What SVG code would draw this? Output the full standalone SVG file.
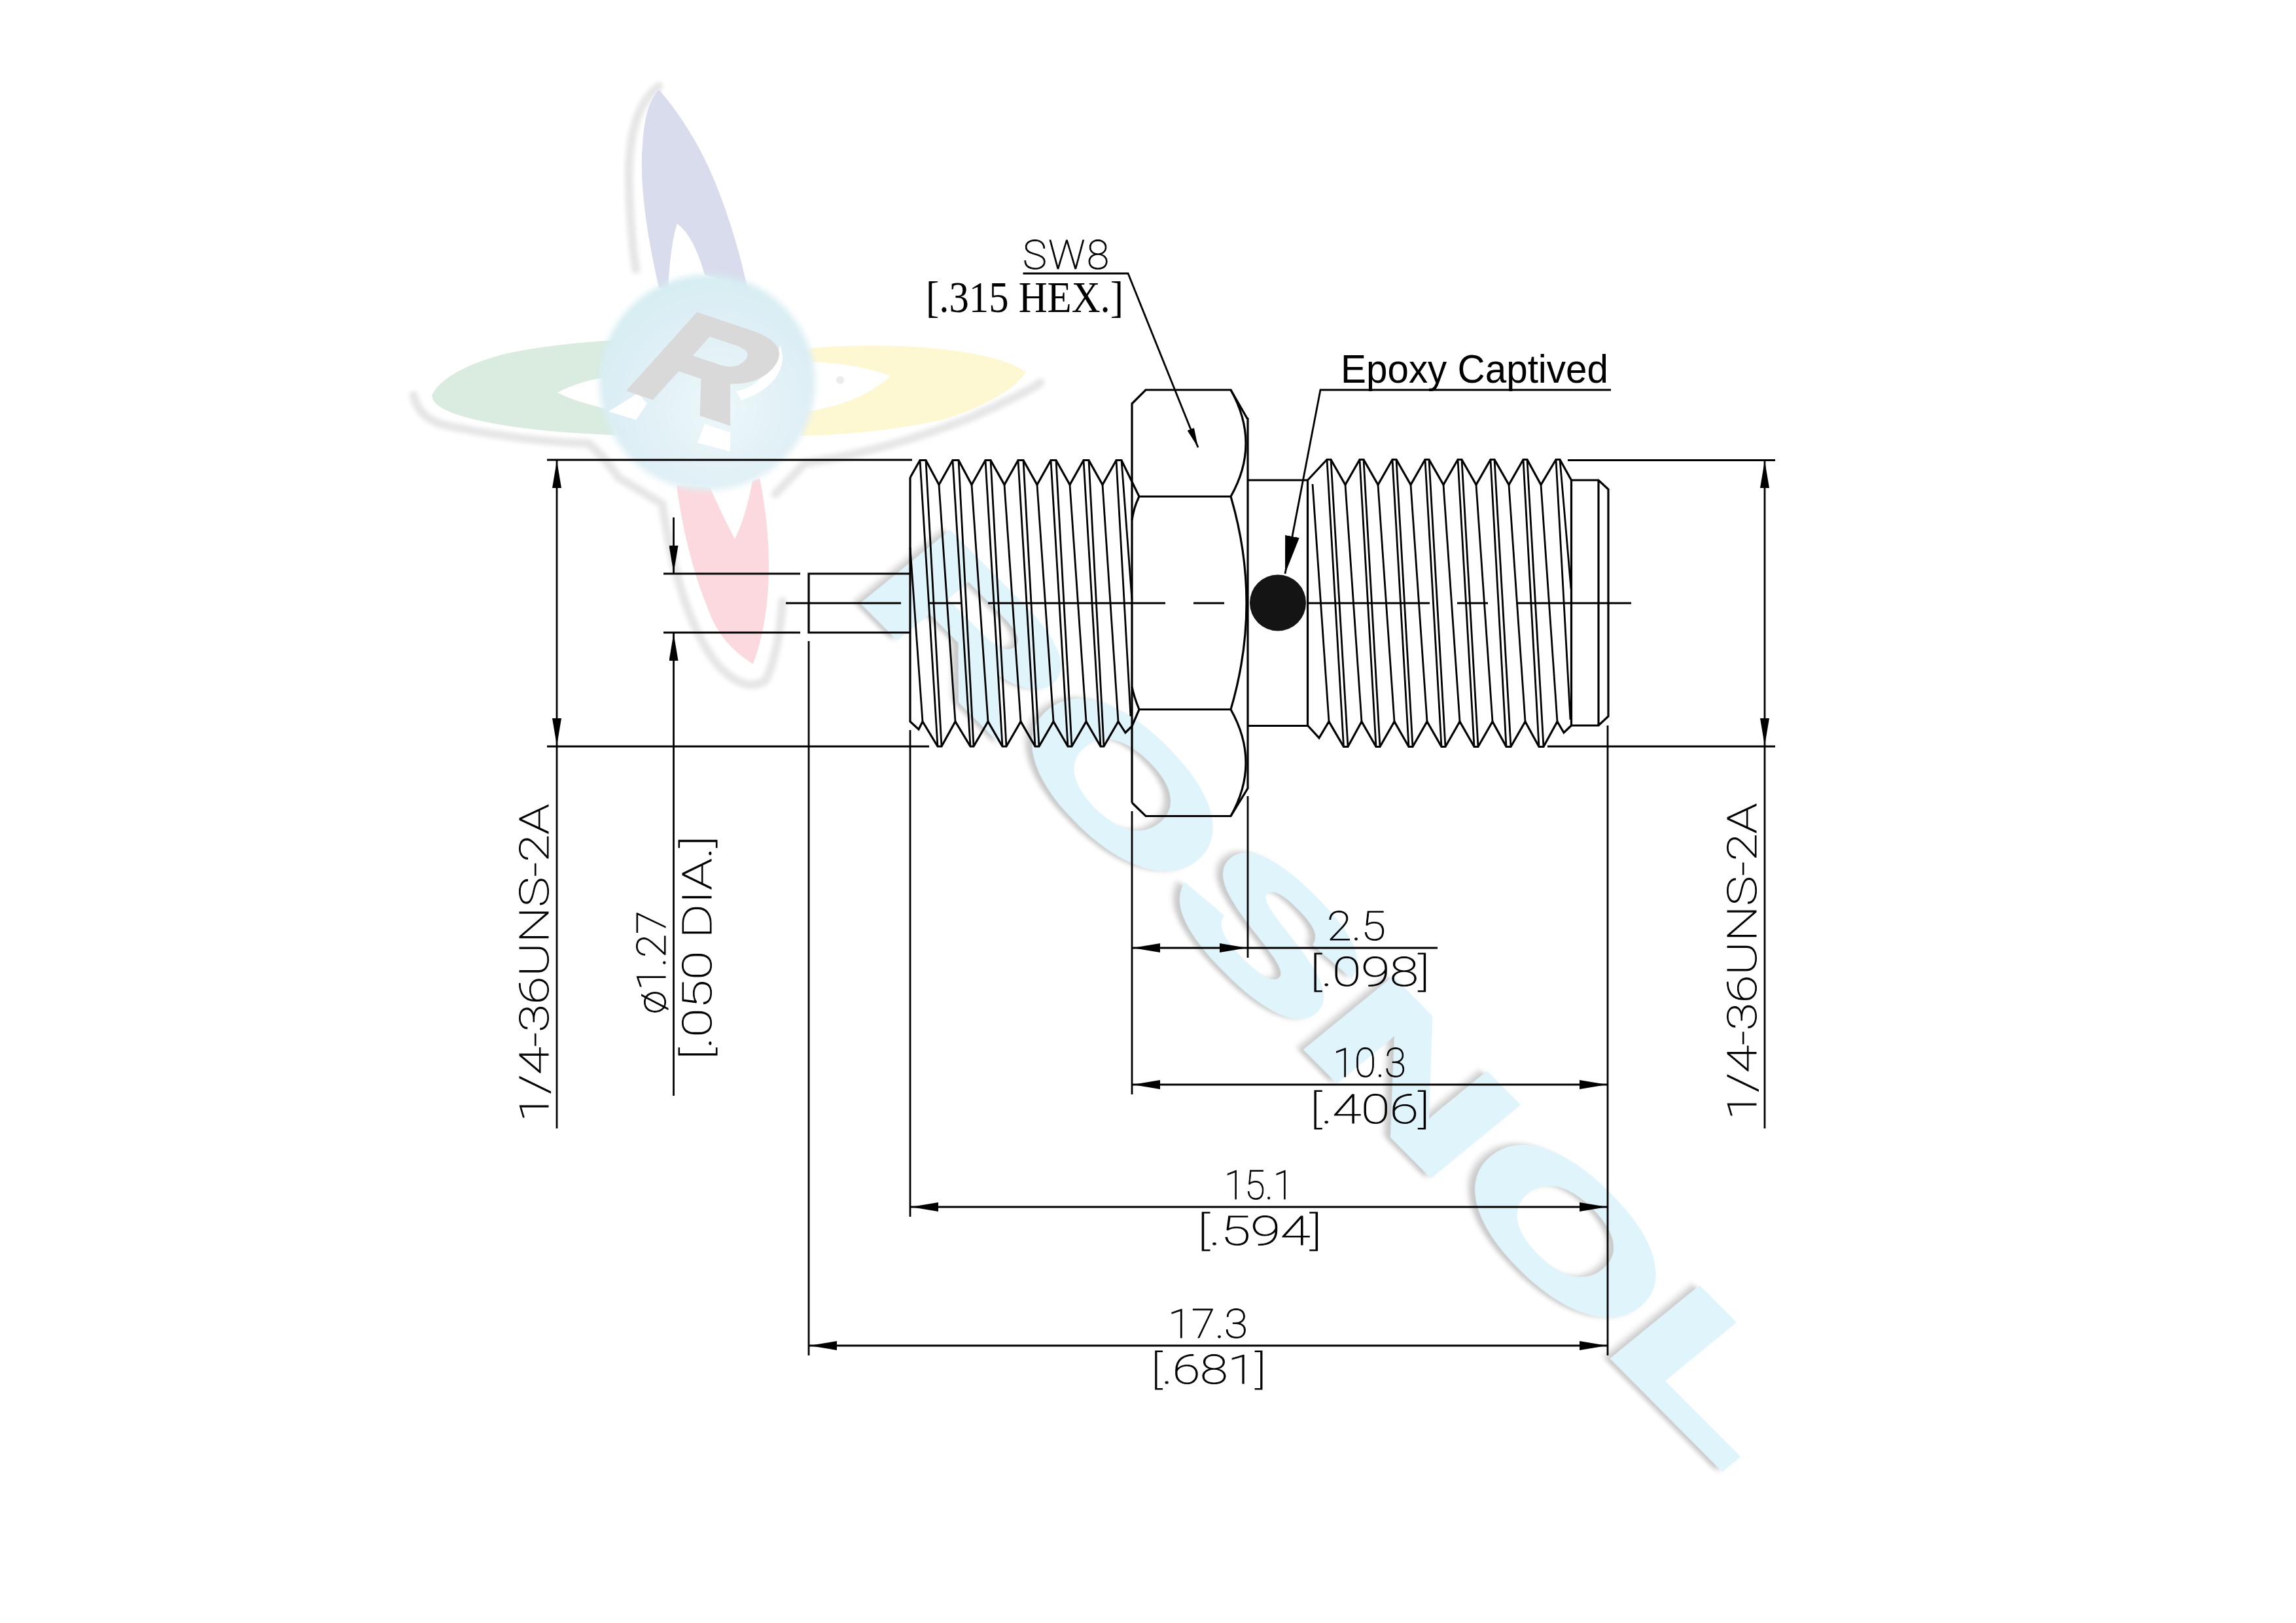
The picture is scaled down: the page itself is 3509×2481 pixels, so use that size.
<svg xmlns="http://www.w3.org/2000/svg" width="3509" height="2481" viewBox="0 0 3509 2481">
<style>
.l{fill:none;stroke:#000;stroke-width:3.2;stroke-linejoin:miter}
.t{fill:none;stroke:#000;stroke-width:2.8}
.d{fill:none;stroke:#000;stroke-width:2.8}
.da{fill:none;stroke:#000;stroke-width:2.8;marker-start:url(#as);marker-end:url(#ae)}
.cad{font-family:"Roboto","Liberation Sans",sans-serif;font-weight:100;font-size:62px;fill:#000;stroke:#000;stroke-width:1}
.halo{fill:none;stroke:#e6e6e6;stroke-width:13;stroke-linecap:round;filter:url(#soft)}
</style>
<defs>
<marker id="ae" markerUnits="userSpaceOnUse" viewBox="0 0 42 14" refX="42" refY="7" markerWidth="42" markerHeight="14" orient="auto"><path d="M0,0L42,7L0,14Z" fill="#000"/></marker>
<marker id="as" markerUnits="userSpaceOnUse" viewBox="0 0 42 14" refX="42" refY="7" markerWidth="42" markerHeight="14" orient="auto-start-reverse"><path d="M0,0L42,7L0,14Z" fill="#000"/></marker>
<marker id="big" markerUnits="userSpaceOnUse" viewBox="0 0 58 22" refX="58" refY="11" markerWidth="58" markerHeight="22" orient="auto"><path d="M0,0L58,11L0,22Z" fill="#000"/></marker>
<marker id="small" markerUnits="userSpaceOnUse" viewBox="0 0 30 11" refX="30" refY="5.5" markerWidth="30" markerHeight="11" orient="auto"><path d="M0,0L30,5.5L0,11Z" fill="#000"/></marker>
<filter id="soft" x="-20%" y="-20%" width="140%" height="140%"><feGaussianBlur stdDeviation="3"/></filter>
<filter id="edge" x="-10%" y="-10%" width="120%" height="120%"><feGaussianBlur stdDeviation="5"/></filter>
<filter id="wm" x="-10%" y="-10%" width="120%" height="120%"><feDropShadow dx="-4" dy="6" stdDeviation="3" flood-color="#c9c9c9"/></filter>
<radialGradient id="ball" cx="0.55" cy="0.62" r="0.62"><stop offset="0" stop-color="#ecf7fa"/><stop offset="0.7" stop-color="#deeff5"/><stop offset="1" stop-color="#d5edf2"/></radialGradient>
</defs>
<rect width="3509" height="2481" fill="#fff"/>
<g id="watermark-logo">
<path class="halo" d="M632,604Q640,640 680,650Q800,675 900,678Q925,700 945,730L1012,770Q1040,950 1100,1020Q1140,1060 1170,1040Q1190,1000 1196,919"/>
<path class="halo" d="M1185,755L1230,708Q1350,690 1480,640Q1570,600 1590,585"/>
<path class="halo" d="M1007,132Q955,170 962,300Q965,370 972,412"/>
<path fill="#d9dcec" d="M1007,137Q1070,210 1105,310Q1130,380 1142,440L1077,420Q1060,360 1035,342Q1025,370 1021,440L1007,440Q975,300 982,221Q985,160 1007,137Z"/>
<path fill="#d9ecdf" d="M660,604Q680,565 775,540Q850,525 940,520L940,575Q890,580 852,600Q880,615 940,628L940,665Q800,660 720,640Q660,625 660,604Z"/>
<path fill="#fdf8d2" d="M1225,534Q1300,525 1400,530Q1530,540 1568,569Q1540,610 1440,642Q1330,665 1224,666L1225,630Q1310,620 1361,575Q1310,555 1235,553Z"/>
<path fill="#fbd9de" d="M1034,742L1085,745Q1105,790 1123,824Q1140,790 1150,735L1161,731Q1175,800 1175,865Q1175,950 1151,1015Q1110,990 1090,950Q1050,860 1034,742Z"/>
<circle cx="1284" cy="581" r="6" fill="#ececec"/>
<circle cx="1081" cy="585" r="165" fill="url(#ball)" filter="url(#edge)"/>
<path fill="#fff" d="M1196,545Q1195,590 1133,612L1125,598Q1170,590 1193,527Z"/>
<polygon fill="#fff" points="930,629 975,601 989,617 972,642"/>
<polygon fill="#fff" points="1077,648 1116,661 1116,690 1066,677"/>
<text transform="matrix(2.35 .79 -1.51 1.68 947 591)" font-family="'Liberation Sans',sans-serif" font-weight="700" font-size="100" fill="#d9d9d9" stroke="#d9d9d9" stroke-width="3">R</text>
</g>
<g id="watermark-text">
<text transform="matrix(1.27 1.28 -.77 .63 1303 904)" font-family="'Liberation Sans',sans-serif" font-weight="700" font-size="246" fill="#dff4fb" stroke="#dff4fb" stroke-width="9" stroke-linejoin="miter" filter="url(#wm)">ROSNOL</text>
</g>
<g id="left-thread">
<path class="l" d="M1391,730L1406,703.5H1415L1435,741L1456,703.5H1465L1485,741L1506,703.5H1514L1535,741L1556,703.5H1564L1585,741L1606,703.5H1614L1635,741L1656,703.5H1664L1685,741L1706,703.5H1714L1741,759"/>
<path class="l" d="M1391,730V1103L1404,1115L1410,1103L1433,1141H1439L1460,1103L1483,1141H1488L1510,1103L1532,1141H1538L1560,1103L1582,1141H1588L1610,1103L1632,1141H1638L1660,1103L1682,1141H1687L1709,1103L1720,1120L1730,1110L1741,1084.5"/>
<path class="t" d="M1391,837L1410,1103M1406,703.5L1433,1141M1415,703.5L1439,1141M1435,741L1460,1103M1456,703.5L1483,1141M1465,703.5L1488,1141M1485,741L1510,1103M1506,703.5L1532,1141M1514,703.5L1538,1141M1535,741L1560,1103M1556,703.5L1582,1141M1564,703.5L1588,1141M1585,741L1610,1103M1606,703.5L1632,1141M1614,703.5L1638,1141M1635,741L1660,1103M1656,703.5L1682,1141M1664,703.5L1687,1141M1685,741L1709,1103M1706,703.5L1728,1095M1714,703.5L1730,917"/>
</g>
<g id="pin"><path class="l" d="M1391,877H1236V967H1391"/></g>
<g id="hex">
<path class="l" d="M1730,1227V617L1751,596H1881L1906,639.5L1907,640V1205L1881,1247.5H1751L1730,1227"/>
<path class="l" d="M1881,596Q1927,678 1881,759Q1929,922 1881,1084.5Q1927,1166 1881,1247.5M1741,759H1881M1741,1084.5H1881M1741,759Q1733,775 1730,795M1741,1084.5Q1733,1065 1730,1050"/>
</g>
<g id="neck"><path class="l" d="M1908,734H1998.5M1908,1109.5H1998.5M1998.5,734V1109.5"/></g>
<g id="epoxy-dot"><circle cx="1953" cy="921.5" r="43" fill="#141414"/></g>
<g id="right-thread">
<path class="l" d="M1998.5,734L2028,702.5H2034L2056,741L2078,702.5H2084L2106,741L2128,702.5H2134L2156,741L2178,702.5H2184L2206,741L2228,702.5H2234L2256,741L2278,702.5H2284L2306,741L2328,702.5H2334L2355,741L2378,702.5H2384L2401.5,734"/>
<path class="l" d="M1998.5,1109L2016,1128L2031,1103L2053.5,1141.5H2060L2081,1103L2103,1141.5H2109L2131,1103L2153,1141.5H2159L2181,1103L2203,1141.5H2209L2231,1103L2253,1141.5H2259L2281,1103L2302,1141.5H2309L2331,1103L2352,1141.5H2359L2380,1103L2390,1120L2401.5,1109"/>
<path class="t" d="M2006,740L2031,1103M2028,702.5L2053.5,1141.5M2034,702.5L2060,1141.5M2056,741L2081,1103M2078,702.5L2103,1141.5M2084,702.5L2109,1141.5M2106,741L2131,1103M2128,702.5L2153,1141.5M2134,702.5L2159,1141.5M2156,741L2181,1103M2178,702.5L2203,1141.5M2184,702.5L2209,1141.5M2206,741L2231,1103M2228,702.5L2253,1141.5M2234,702.5L2259,1141.5M2256,741L2281,1103M2278,702.5L2302,1141.5M2284,702.5L2309,1141.5M2306,741L2331,1103M2328,702.5L2352,1141.5M2334,702.5L2359,1141.5M2355,741L2380,1103M2378,702.5L2400,1100M2384,702.5L2401,900"/>
</g>
<g id="right-end"><path class="l" d="M2401.5,734V1109M2401.5,734H2443L2458,748V1095L2443,1109H2401.5M2443,734V1109"/></g>
<g id="connectors">
<path class="d" d="M1014,877H1223M1014,967H1223M836,703H1394M836,1141H1420M2396,703.5H2713M2365,1141H2713"/>
<path class="d" d="M1201,922H1377M1419,922H1468M1510,922H1781M1824,922H1871M1997,922H2185M2227,922H2274M2317,922H2493"/>
<path class="d" d="M1236,980V2072M1391,1116V1860M1730,1240V1673M1907,1217V1464M2457,1109V2072"/>
<line class="da" x1="851" y1="704" x2="851" y2="1140"/>
<path class="d" d="M851,1140V1725"/>
<line x1="1029.5" y1="791" x2="1029.5" y2="876" class="d" marker-end="url(#ae)"/>
<line x1="1029.5" y1="1675" x2="1029.5" y2="968" class="d" marker-end="url(#ae)"/>
<line class="da" x1="2697" y1="704" x2="2697" y2="1140"/>
<path class="d" d="M2697,1140V1725"/>
<line class="da" x1="1731" y1="1449" x2="1906" y2="1449"/>
<path class="d" d="M1906,1449H2197"/>
<line class="da" x1="1731" y1="1658" x2="2456" y2="1658"/>
<line class="da" x1="1392" y1="1845" x2="2456" y2="1845"/>
<line class="da" x1="1237" y1="2057" x2="2456" y2="2057"/>
<path class="d" d="M1563.5,418H1724L1831,684" marker-end="url(#small)"/>
<path class="d" stroke-width="3" d="M2462,596H2018L1964,877" marker-end="url(#big)"/>
</g>
<g id="labels">
<text class="cad" x="1563" y="411" textLength="132" lengthAdjust="spacing">SW8</text>
<text x="1415" y="477" textLength="302" lengthAdjust="spacingAndGlyphs" font-family="'Liberation Serif',serif" font-size="68">[.315 HEX.]</text>
<text x="2049" y="585" textLength="409" lengthAdjust="spacingAndGlyphs" font-family="'Liberation Sans',sans-serif" font-size="61">Epoxy Captived</text>
<text class="cad" x="2028" y="1437" textLength="90" lengthAdjust="spacingAndGlyphs">2.5</text>
<text class="cad" x="2002" y="1507" textLength="183" lengthAdjust="spacingAndGlyphs">[.098]</text>
<text class="cad" x="2037" y="1646" textLength="112" lengthAdjust="spacingAndGlyphs">10.3</text>
<text class="cad" x="2002" y="1717" textLength="183" lengthAdjust="spacingAndGlyphs">[.406]</text>
<text class="cad" x="1871" y="1833" textLength="106" lengthAdjust="spacingAndGlyphs">15.1</text>
<text class="cad" x="1830" y="1903" textLength="190" lengthAdjust="spacingAndGlyphs">[.594]</text>
<text class="cad" x="1785" y="2045" textLength="122" lengthAdjust="spacingAndGlyphs">17.3</text>
<text class="cad" x="1759" y="2115" textLength="176" lengthAdjust="spacingAndGlyphs">[.681]</text>
<text class="cad" transform="translate(838 1715) rotate(-90)" textLength="486" lengthAdjust="spacingAndGlyphs">1/4-36UNS-2A</text>
<text class="cad" transform="translate(1017 1550) rotate(-90)" textLength="158" lengthAdjust="spacingAndGlyphs">ø1.27</text>
<text class="cad" transform="translate(1087 1620) rotate(-90)" textLength="342" lengthAdjust="spacingAndGlyphs">[.050 DIA.]</text>
<text class="cad" transform="translate(2684 1712) rotate(-90)" textLength="484" lengthAdjust="spacingAndGlyphs">1/4-36UNS-2A</text>
</g>
</svg>
